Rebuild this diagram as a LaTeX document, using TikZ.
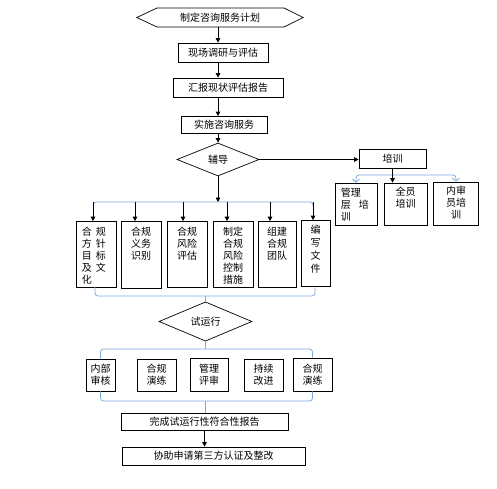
\documentclass[tikz,border=0pt]{standalone}
\usepackage{fontspec}
\newfontfamily\cjk{Noto Sans CJK SC}
\usetikzlibrary{arrows.meta,shapes.geometric,calc}
\definecolor{blueln}{RGB}{125,170,220}
\begin{document}
\begin{tikzpicture}[x=1pt,y=-1pt,
  txt/.style={font=\cjk\fontsize{10}{12}\selectfont, inner sep=0pt, align=center},
  box/.style={draw=black, line width=0.7pt, inner sep=0pt, font=\cjk\fontsize{10}{12}\selectfont, align=center},
  arr/.style={draw=black, line width=0.7pt, -{Triangle[length=4.5pt,width=4.5pt]}},
  bl/.style={draw=blueln, line width=0.8pt, rounded corners=3pt},
  blarr/.style={bl, -{Straight Barb[length=3pt,width=7pt]}},
  dia/.style={diamond, draw=black, line width=0.7pt, inner sep=0pt, font=\cjk\fontsize{10}{12}\selectfont}]
\useasboundingbox (0,0) rectangle (497,488);
\coordinate (spine) at (218,0);

% top chain
\node[txt, minimum width=166pt, minimum height=19pt] (plan) at (220,17.5) {制定咨询服务计划};
\draw[line width=0.7pt] (plan.west) -- (157,8) -- (284,8) -- (plan.east) -- (284,27) -- (157,27) -- cycle;
\node[box, minimum width=90pt, minimum height=19pt] (b1) at (223,52.5) {现场调研与评估};
\node[box, minimum width=110pt, minimum height=19pt] (b2) at (228,87.5) {汇报现状评估报告};
\node[box, minimum width=86pt, minimum height=17pt] (b3) at (224,125) {实施咨询服务};
\node[dia, minimum width=82pt, minimum height=33pt] (fd) at (218,159.5) {辅导};
\draw[arr] (spine |- plan.south) -- (spine |- b1.north);
\draw[arr] (spine |- b1.south) -- (spine |- b2.north);
\draw[arr] (spine |- b2.south) -- (spine |- b3.north);
\draw[arr] (spine |- b3.south) -- (fd.north);

% training
\node[box, minimum width=67pt, minimum height=19pt] (px) at (392.5,159) {培训};
\draw[arr] (fd.east) -- (fd.east -| px.west);
\node[box, minimum width=42pt, minimum height=42pt] (t1) at (356,204) {};
\node[box, minimum width=43pt, minimum height=42pt] (t2) at (405.5,204) {};
\node[box, minimum width=45pt, minimum height=43pt] (t3) at (456,203.5) {};
\node[txt, align=left, anchor=north west] (t1t) at ($(t1.north west)+(6,5)$) {管理\\层\hspace{8pt}培\\训};
\node[txt, anchor=north] (t2t) at ($(t2.north)+(0,4)$) {全员\\培训};
\node[txt, anchor=north] (t3t) at ($(t3.north)+(0,4)$) {内审\\员培\\训};
\coordinate (tb) at (392.5,175);
\draw[blarr] (tb) -| (t1.north);
\draw[blarr] (tb) -| (t3.north);
\draw[arr] (px.south) -- (px.south |- t2.north);

% six boxes
\node[box, minimum width=40pt, minimum height=66pt] (s1) at (96,254.5) {};
\node[box, minimum width=40pt, minimum height=67pt] (s2) at (141,255) {};
\node[box, minimum width=40pt, minimum height=66pt] (s3) at (187,254.5) {};
\node[box, minimum width=40pt, minimum height=66pt] (s4) at (233,254.5) {};
\node[box, minimum width=38pt, minimum height=66pt] (s5) at (277,254.5) {};
\node[box, minimum width=29pt, minimum height=66pt] (s6) at (315.5,253.5) {};
\node[txt, align=left, anchor=north west] (s1t) at ($(s1.north west)+(6,5.5)$) {合\hspace{4pt}规\\方\hspace{4pt}针\\目\hspace{4pt}标\\及\hspace{4pt}文\\化};
\node[txt, anchor=north] (s2t) at ($(s2.north)+(0,5.5)$) {合规\\义务\\识别};
\node[txt, anchor=north] (s3t) at ($(s3.north)+(0,5.5)$) {合规\\风险\\评估};
\node[txt, anchor=north] (s4t) at ($(s4.north)+(0,5.5)$) {制定\\合规\\风险\\控制\\措施};
\node[txt, anchor=north] (s5t) at ($(s5.north)+(0,5.5)$) {组建\\合规\\团队};
\node[txt, anchor=north, font=\cjk\fontsize{10}{13.2}\selectfont] (s6t) at ($(s6.north)+(0,4.5)$) {编\\写\\文\\件};

\coordinate (hub1) at (218,202);
\coordinate (a1) at (93,202);
\coordinate (a2) at (135,202);
\coordinate (a3) at (183,202);
\coordinate (a4) at (227,202);
\coordinate (a5) at (270,202);
\coordinate (a6) at (313,202);
\draw[bl] ($(a1)+(0,4)$) -- (a1) -- (a6) -- ($(a6)+(0,4)$);
\draw[arr] (fd.south) -- (hub1);
\foreach \i in {1,...,6} {\draw[arr] (a\i) -- (a\i |- s\i.north);}

% bracket to trial run
\node[dia, minimum width=93pt, minimum height=29pt] (sy) at (205.5,321.5) {试运行};
\coordinate (hub2) at (205.5,296);
\draw[bl] (95,287) |- (hub2) -| (315,286.5);
\draw[bl] (hub2) -- (sy.north);

% five boxes
\node[box, minimum width=29pt, minimum height=32pt] (r1) at (100.5,375) {内部\\审核};
\node[box, minimum width=39pt, minimum height=32pt] (r2) at (156.5,375) {合规\\演练};
\node[box, minimum width=38pt, minimum height=33pt] (r3) at (209,374.5) {管理\\评审};
\node[box, minimum width=39pt, minimum height=32pt] (r4) at (263.5,375) {持续\\改进};
\node[box, minimum width=39pt, minimum height=33pt] (r5) at (312.5,374.5) {合规\\演练};
\coordinate (hub3) at (205.5,349);
\draw[bl] (sy.south) -- (hub3);
\draw[bl] (r1.north) |- (hub3) -| (r5.north);

% bottom
\node[box, minimum width=167pt, minimum height=17pt] (dn) at (204.5,421.5) {完成试运行性符合性报告};
\node[box, minimum width=183pt, minimum height=18pt] (fn) at (213.5,456) {协助申请第三方认证及整改};
\coordinate (hub4) at (205.5,401);
\draw[bl] (r1.south) |- (hub4) -| (r5.south);
\draw[bl] (hub4) -- (hub4 |- dn.north);
\draw[arr] (dn.south) -- (dn.south |- fn.north);
\end{tikzpicture}
\end{document}
